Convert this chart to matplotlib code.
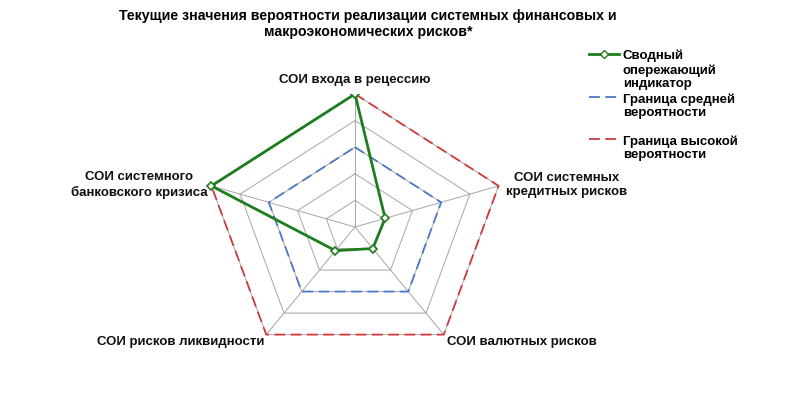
import numpy as np
import matplotlib.pyplot as plt
import matplotlib
from matplotlib.lines import Line2D

matplotlib.rcParams['font.family'] = ['Liberation Sans', 'DejaVu Sans']

# данные
axes_labels = ['СОИ входа в рецессию', 'СОИ системных\nкредитных рисков', 'СОИ валютных рисков',
               'СОИ рисков ликвидности', 'СОИ системного\nбанковского кризиса']
composite = [1.0, 0.21, 0.2, 0.22, 1.0]
mid_border = [0.6, 0.6, 0.6, 0.6, 0.6]
high_border = [1.0, 1.0, 1.0, 1.0, 1.0]
grid_levels = [0.2, 0.4, 0.6, 0.8, 1.0]
legend_labels = ['Сводный\nопережающий\nиндикатор', 'Граница средней\nвероятности',
                 'Граница высокой\nвероятности']

W, H = 812, 420
fig = plt.figure(figsize=(W / 100, H / 100), dpi=100)

# центр и радиусы паутины (в пикселях), паутина слегка растянута по горизонтали
cx, cy, Rx, Ry = 355, 227, 151, 133
ax = fig.add_axes([(cx - Rx) / W, (H - cy - Ry) / H, 2 * Rx / W, 2 * Ry / H])
ax.set_xlim(-1, 1)
ax.set_ylim(-1, 1)
ax.axis('off')

n = len(axes_labels)
theta = np.linspace(0, 2 * np.pi, n, endpoint=False)


def to_xy(vals):
    v = np.append(vals, vals[0])
    t = np.append(theta, theta[0])
    return v * np.sin(t), v * np.cos(t)


# сетка
for lv in grid_levels:
    ax.plot(*to_xy([lv] * n), color='#a6a6a6', lw=0.7, zorder=1)
for t in theta:
    ax.plot([0, np.sin(t)], [0, np.cos(t)], color='#a6a6a6', lw=0.7, zorder=1)

red, blue, green = '#d03a3a', '#4a78c8', '#1e7d1e'
dash = (0, (6, 3))
ax.plot(*to_xy(high_border), color=red, lw=1.3, ls=dash, zorder=2)
ax.plot(*to_xy(mid_border), color=blue, lw=1.3, ls=dash, zorder=2)
ax.plot(*to_xy(composite), color=green, lw=2, marker='D', ms=4.5,
        mfc='white', mec=green, mew=1.2, zorder=3)

# подписи осей
lab_kw = dict(fontsize=9.5, fontweight='bold', color='#111111')
fig.text(355 / W, 1 - 80 / H, axes_labels[0], ha='center', va='center', **lab_kw)
fig.text(567 / W, 1 - 185 / H, axes_labels[1], ha='center', va='center', linespacing=1.2, **lab_kw)
fig.text(447 / W, 1 - 342 / H, axes_labels[2], ha='left', va='center', **lab_kw)
fig.text(264 / W, 1 - 342 / H, axes_labels[3], ha='right', va='center', **lab_kw)
fig.text(139 / W, 1 - 185 / H, axes_labels[4], ha='center', va='center', linespacing=1.2, **lab_kw)

fig.text(368 / W, 1 - 24 / H,
         'Текущие значения вероятности реализации системных финансовых и\nмакроэкономических рисков*',
         ha='center', va='center', fontsize=10.2, fontweight='bold', linespacing=1.2)

# легенда вручную
leg_y = [54, 97, 139]
leg_style = [dict(color=green, lw=2, marker='D', ms=4, mfc='white', mec=green, markevery=[1]),
             dict(color=blue, lw=1.3, ls=dash),
             dict(color=red, lw=1.3, ls=dash)]
for y, lab, st in zip(leg_y, legend_labels, leg_style):
    yy = 1 - y / H
    fig.add_artist(Line2D([589 / W, 604 / W, 619 / W], [yy, yy, yy], **st))
    fig.text(623 / W, yy + 4 / H, lab, ha='left', va='top', fontsize=9.5,
             fontweight='bold', linespacing=1.18)

fig.savefig('out.png', dpi=100, facecolor='white')
